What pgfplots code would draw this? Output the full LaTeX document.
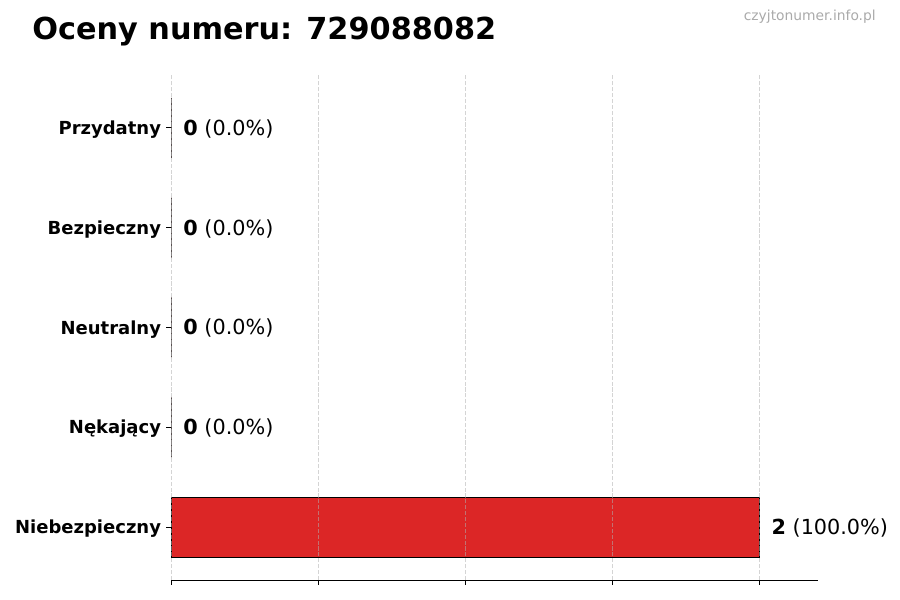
\documentclass[border=0pt]{standalone}
\usepackage{fontspec}
\setmainfont{DejaVu Sans}
\usepackage{pgfplots}
\pgfplotsset{compat=1.18}
\definecolor{barred}{HTML}{DC2626}
\definecolor{gridgray}{HTML}{B0B0B0}
\definecolor{markgray}{HTML}{AAAAAA}

\begin{document}
\begin{tikzpicture}
% canvas: 900x600 px, 1 px = 0.72 bp
\path[use as bounding box] (0,0) rectangle (648bp,432bp);

\begin{axis}[
    at={(123.12bp,14.4bp)}, anchor=south west,
    scale only axis,
    width=465.84bp, height=363.6bp,
    xbar, bar width=43.2bp,
    xmin=0, xmax=2.2,
    ymin=-0.53, ymax=4.53,
    xtick={0,0.5,1,1.5,2}, xticklabels={},
    ytick={0,1,2,3,4},
    yticklabels={Niebezpieczny,Nękający,Neutralny,Bezpieczny,Przydatny},
    yticklabel style={font=\bfseries\fontsize{13}{15}\selectfont, inner sep=0pt, xshift=-3.5bp, yshift=-1.2bp},
    axis x line*=bottom, axis y line*=left,
    x axis line style={-, line width=0.6bp},
    y axis line style={draw=none},
    tick align=outside, major tick length=3.5bp,
    tick style={black, line width=0.6bp},
    xmajorgrids,
    grid style={gridgray, draw opacity=0.55, line width=0.6bp, dash pattern=on 2.96bp off 1.28bp},
    axis on top,
    clip=false,
    point meta=explicit symbolic,
    nodes near coords,
    every node near coord/.append style={anchor=west, inner sep=0pt, xshift=8.6bp, yshift=-0.6bp,
        font=\fontsize{15}{18}\selectfont, text=black},
]
\addplot[fill=barred, draw=black, line width=0.7bp] coordinates {
    (2,0) [\textbf{2} (100.0\%)]
    (0,1) [\textbf{0} (0.0\%)]
    (0,2) [\textbf{0} (0.0\%)]
    (0,3) [\textbf{0} (0.0\%)]
    (0,4) [\textbf{0} (0.0\%)]
};
\end{axis}

\node[anchor=base west, inner sep=0pt, font=\bfseries\fontsize{21.9}{26}\selectfont]
    at (23.04bp,403.2bp) {Oceny numeru: 729088082};
\node[anchor=base east, inner sep=0pt, text=markgray, font=\fontsize{10}{12}\selectfont]
    at (630.72bp,416.88bp) {czyjtonumer.info.pl};
\end{tikzpicture}
\end{document}
